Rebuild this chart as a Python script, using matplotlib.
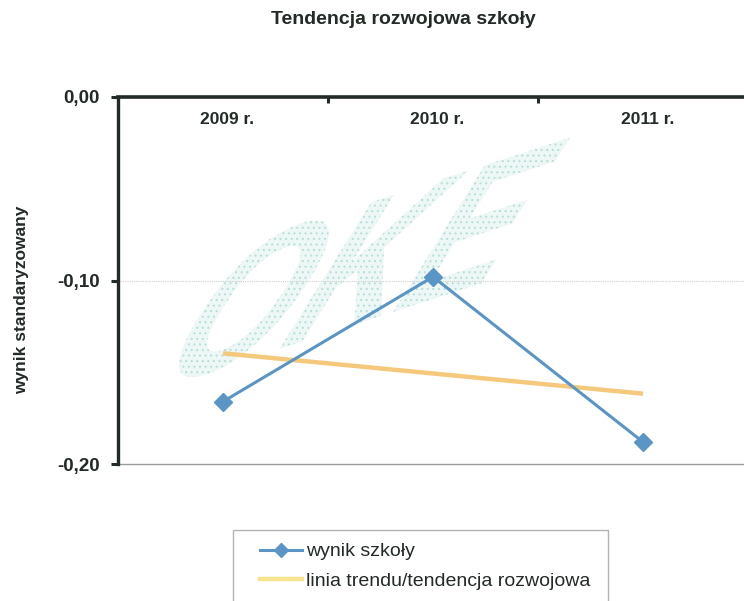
import numpy as np
import matplotlib
matplotlib.use("Agg")
import matplotlib.pyplot as plt
from matplotlib.lines import Line2D
from matplotlib.patches import Rectangle, PathPatch
from matplotlib.textpath import TextPath
from matplotlib.font_manager import FontProperties
from matplotlib.transforms import Affine2D, IdentityTransform, blended_transform_factory

plt.rcParams["font.family"] = ["Liberation Sans", "DejaVu Sans"]

# --- data -------------------------------------------------------------
years = ["2009 r.", "2010 r.", "2011 r."]
school_score = [-0.166, -0.098, -0.188]
y_ticks = [0.0, -0.10, -0.20]
y_tick_labels = ["0,00", "-0,10", "-0,20"]

title = "Tendencja rozwojowa szkoły"
y_label = "wynik standaryzowany"
series_label = "wynik szkoły"
trend_label = "linia trendu/tendencja rozwojowa"

# --- style ------------------------------------------------------------
ink = "#232b27"
blue = "#5a95c6"
trend_col = "#f4c97c"
trend_legend_col = "#f6e48e"

W, H = 744, 601
fig = plt.figure(figsize=(W / 100, H / 100), dpi=100)
fig.patch.set_facecolor("white")

ax = fig.add_axes([118 / W, 1 - 464 / H, 630 / W, 367 / H])
ax.set_xlim(-0.5, 2.5)
ax.set_ylim(-0.2, 0.0)
ax.set_facecolor("none")
ax.set_zorder(1)

x = np.arange(len(years))

# faint speckled watermark lettering behind the plot
fp = FontProperties(family="Liberation Sans", weight="bold")
tp = TextPath((0, 0), "OKE", size=1, prop=fp)
ext = tp.get_extents()
tw, th = ext.width, ext.height
ang_u, ang_v = np.deg2rad(18), np.deg2rad(58)
Wp, Hp = 345, 178
ox, oy = 152, H - 392
mtx = np.array([
    [Wp / tw * np.cos(ang_u), Hp / th * np.cos(ang_v), ox],
    [Wp / tw * np.sin(ang_u), Hp / th * np.sin(ang_v), oy],
    [0, 0, 1],
])
tr = Affine2D().translate(-ext.x0, -ext.y0) + Affine2D(mtx)
plt.rcParams["hatch.linewidth"] = 0.8
wm = PathPatch(tr.transform_path(tp), transform=IdentityTransform(),
               facecolor="#edf7f5", edgecolor="#b9e0d9", hatch="...",
               lw=0, zorder=0)
fig.patches.append(wm)

# gridlines
ax.axhline(-0.10, color="#cfcfcf", lw=0.8, ls=(0, (1, 1)), zorder=1)
ax.axhline(-0.20, color="#9a9a9a", lw=1.0, zorder=1, clip_on=False)

# trend line from a least-squares fit of the school results
coef = np.polyfit(x, school_score, 1)
trend = np.polyval(coef, x)
ax.plot(x, trend, color=trend_col, lw=3.2, solid_capstyle="butt", zorder=2)

ax.plot(x, school_score, color=blue, lw=2.2, marker="D", markersize=9,
        markerfacecolor=blue, markeredgecolor=blue, zorder=3)

# spines: value axis on the left, category axis along zero at the top
for s in ("right", "bottom"):
    ax.spines[s].set_visible(False)
ax.spines["left"].set_color(ink)
ax.spines["left"].set_linewidth(2.4)
ax.spines["top"].set_color(ink)
ax.spines["top"].set_linewidth(2.6)

ax.set_yticks(y_ticks)
ax.set_yticklabels(y_tick_labels, fontsize=13.5, fontweight="bold", color=ink)
ax.tick_params(axis="y", direction="out", length=5, width=2.2, color=ink, pad=8)

ax.xaxis.set_ticks_position("top")
ax.set_xticks([0.5, 1.5])
ax.set_xticklabels([])
ax.tick_params(axis="x", direction="in", length=4, width=2.2, color=ink)

# category names under the zero line
bt = blended_transform_factory(ax.transData, ax.transAxes)
for xi, lab in zip(x, years):
    ax.text(xi + 0.02, 1 - 23 / 367, lab, transform=bt, ha="center", va="center",
            fontsize=12.5, fontweight="bold", color=ink)

fig.text(22 / W, 1 - 300 / H, y_label, rotation=90, ha="center", va="center",
         fontsize=12.5, fontweight="bold", color=ink)

fig.text(403 / W, 1 - 20 / H, title, ha="center", va="center",
         fontsize=14, fontweight="bold", color=ink)

# legend box (runs past the lower edge)
box = Rectangle((233 / W, -0.05), (608 - 233) / W, 0.05 + (601 - 530) / H,
                transform=fig.transFigure, facecolor="white",
                edgecolor="#b3b3b3", lw=1.0, zorder=5)
fig.patches.append(box)

handles = [
    Line2D([], [], color=blue, lw=2.2, marker="D", markersize=7,
           markerfacecolor=blue, markeredgecolor=blue),
    Line2D([], [], color=trend_legend_col, lw=3.2),
]
leg = fig.legend(handles, [series_label, trend_label], loc="upper left",
                 bbox_to_anchor=(250 / W, 1 - 533 / H), frameon=False,
                 fontsize=14, handlelength=2.2, handletextpad=0.2,
                 labelspacing=0.6, borderpad=0.0, labelcolor=ink)
leg.set_zorder(6)

fig.savefig("out.png", dpi=100, facecolor="white")
